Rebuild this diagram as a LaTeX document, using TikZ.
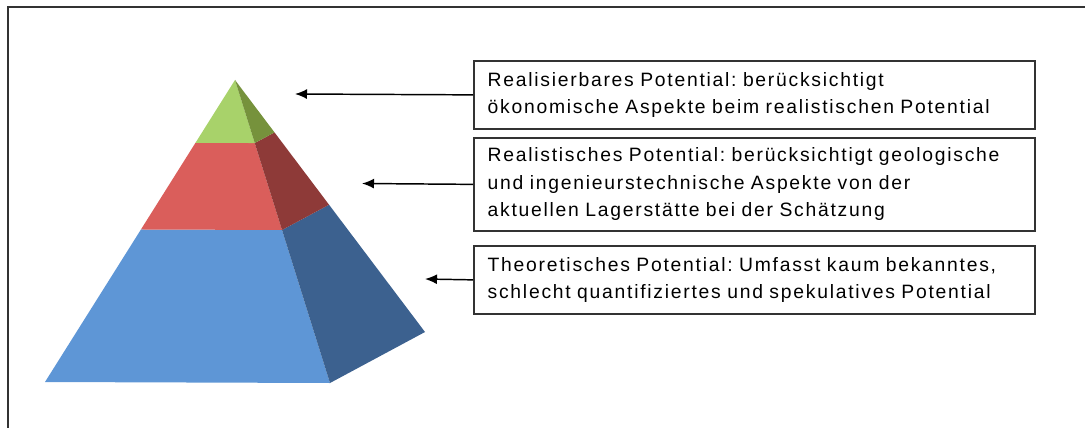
\documentclass[tikz,border=0pt]{standalone}
\usepackage{fontspec}
\setmainfont{Liberation Sans}
\usetikzlibrary{arrows.meta,calc}
\definecolor{greenfront}{HTML}{A8D26A}
\definecolor{greenside}{HTML}{76923C}
\definecolor{redfront}{HTML}{DA5E5B}
\definecolor{redside}{HTML}{8E3A38}
\definecolor{bluefront}{HTML}{5E96D6}
\definecolor{blueside}{HTML}{3C618F}
\definecolor{framegray}{HTML}{333333}
\tikzset{
  infobox/.style={draw=framegray, line width=1.3pt, rectangle, anchor=north west,
    minimum width=420.75pt, text width=400pt, align=left, inner xsep=10pt,
    font=\fontsize{14.5}{20.6}\selectfont\addfontfeature{LetterSpace=9}\frenchspacing},
  pointer/.style={line width=1.1pt, -{Latex[length=9pt,width=7.5pt]}}
}
\begin{document}
\begin{tikzpicture}[x=0.75pt,y=-0.75pt]
  \useasboundingbox (0,0) rectangle (1085,428);
  \draw[framegray, line width=1.5pt] (8,428) -- (8,7) -- (1085,7);
  \coordinate (A) at (235,80);
  \coordinate (BL) at (45,382);
  \coordinate (FR) at (330,383);
  \coordinate (BR) at (425,332);
  \coordinate (L1) at ($(A)!0.208!(BL)$);
  \coordinate (F1) at ($(A)!0.208!(FR)$);
  \coordinate (R1) at ($(A)!0.208!(BR)$);
  \coordinate (L2) at ($(A)!0.495!(BL)$);
  \coordinate (F2) at ($(A)!0.495!(FR)$);
  \coordinate (R2) at ($(A)!0.495!(BR)$);
  \fill[bluefront] (L2) -- (F2) -- (FR) -- (BL) -- cycle;
  \fill[blueside] (F2) -- (R2) -- (BR) -- (FR) -- cycle;
  \fill[redfront] (L1) -- (F1) -- (F2) -- (L2) -- cycle;
  \fill[redside] (F1) -- (R1) -- (R2) -- (F2) -- cycle;
  \fill[greenfront] (A) -- (F1) -- (L1) -- cycle;
  \fill[greenside] (A) -- (R1) -- (F1) -- cycle;
  \node[infobox, minimum height=51pt] (realisierbar) at (473,60)
    {Realisierbares Potential: berücksichtigt\\
     ökonomische Aspekte beim realistischen Potential};
  \node[infobox, minimum height=69.75pt] (realistisch) at (473,137)
    {Realistisches Potential: berücksichtigt geologische\\
     und ingenieurstechnische Aspekte von der\\
     aktuellen Lagerstätte bei der Schätzung};
  \node[infobox, minimum height=51pt] (theoretisch) at (473,245)
    {Theoretisches Potential: Umfasst kaum bekanntes,\\
     schlecht quantifiziertes und spekulatives Potential};
  \coordinate (tip1) at (295,94);
  \coordinate (tip2) at (362,183.5);
  \coordinate (tip3) at (425,279);
  \draw[pointer] (realisierbar.west) -- (tip1);
  \draw[pointer] (realistisch.west) -- (tip2);
  \draw[pointer] (theoretisch.west) -- (tip3);
\end{tikzpicture}
\end{document}
